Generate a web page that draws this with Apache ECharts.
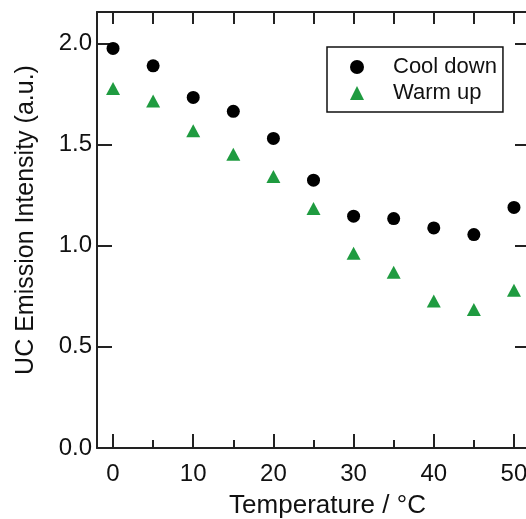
<!DOCTYPE html>
<html>
<head>
<meta charset="utf-8">
<script src="https://cdn.jsdelivr.net/npm/echarts@6/dist/echarts.min.js"></script>
<style>html,body{margin:0;padding:0;background:#fff;}#c{width:526px;height:519px;}</style>
</head>
<body>
<div id="c"></div>
<script>
const temperatures = [0, 5, 10, 15, 20, 25, 30, 35, 40, 45, 50];
const coolDown = [1.975, 1.889, 1.733, 1.664, 1.530, 1.324, 1.146, 1.134, 1.088, 1.055, 1.189];
const warmUp = [1.777, 1.715, 1.568, 1.452, 1.342, 1.184, 0.963, 0.869, 0.727, 0.685, 0.780];
const xMajorTicks = [0, 10, 20, 30, 40, 50];
const xMinorTicks = [5, 15, 25, 35, 45];
const xTopTicks = [0, 5, 10, 15, 20, 25, 30, 35, 40, 45, 50];
const yTicks = [0, 0.5, 1.0, 1.5, 2.0];

const font = 'Liberation Sans, Arial, sans-serif';
const axisColor = '#222';
const green = '#1f9b40';

const chart = echarts.init(document.getElementById('c'));
const lineStyle = { color: axisColor, width: 2 };

chart.setOption({
  animation: false,
  backgroundColor: '#fff',
  grid: { left: 97, top: 12, right: -4, bottom: 71, containLabel: false, outerBoundsMode: 'none' },
  legend: {
    left: 327, top: 47,
    orient: 'vertical',
    padding: [9, 6, 8, 23],
    itemWidth: 14, itemHeight: 14,
    itemGap: 4,
    symbolKeepAspect: true,
    borderColor: '#111', borderWidth: 1.5,
    textStyle: { fontFamily: font, fontSize: 22, lineHeight: 22, color: '#111', padding: [0, 0, 0, 24] },
    data: ['Cool down', 'Warm up']
  },
  xAxis: [
    {
      type: 'value', min: -2, max: 52, position: 'bottom',
      name: 'Temperature / °C', nameLocation: 'middle', nameGap: 45,
      nameTextStyle: { fontFamily: font, fontSize: 26, color: '#111', padding: [0, 0, 0, 28] },
      axisLine: { show: true, onZero: false, lineStyle },
      axisTick: { show: true, inside: true, length: 14, lineStyle, customValues: xMajorTicks },
      axisLabel: { fontFamily: font, fontSize: 24, color: '#111', margin: 14, customValues: xMajorTicks },
      splitLine: { show: false }
    },
    {
      type: 'value', min: -2, max: 52, position: 'bottom',
      axisLine: { show: false, onZero: false },
      axisTick: { show: true, inside: true, length: 8, lineStyle, customValues: xMinorTicks },
      axisLabel: { show: false },
      splitLine: { show: false }
    },
    {
      type: 'value', min: -2, max: 52, position: 'top',
      axisLine: { show: true, onZero: false, lineStyle },
      axisTick: { show: true, inside: true, length: 12, lineStyle, customValues: xTopTicks },
      axisLabel: { show: false },
      splitLine: { show: false }
    }
  ],
  yAxis: [
    {
      type: 'value', min: 0, max: 2.155, position: 'left',
      name: 'UC Emission Intensity (a.u.)', nameLocation: 'middle', nameGap: 58,
      nameTextStyle: { fontFamily: font, fontSize: 25, color: '#111', padding: [0, 0, 0, 20] },
      axisLine: { show: true, onZero: false, lineStyle },
      axisTick: { show: true, inside: true, length: 15, lineStyle, customValues: yTicks },
      axisLabel: { fontFamily: font, fontSize: 24, color: '#111', margin: 5, customValues: yTicks,
                   formatter: v => v.toFixed(1) },
      splitLine: { show: false }
    },
    {
      type: 'value', min: 0, max: 2.155, position: 'right',
      axisLine: { show: true, onZero: false, lineStyle },
      axisTick: { show: true, inside: true, length: 15, lineStyle, customValues: yTicks },
      axisLabel: { show: false },
      splitLine: { show: false }
    }
  ],
  series: [
    {
      name: 'Cool down', type: 'scatter', xAxisIndex: 0, yAxisIndex: 0,
      symbol: 'circle', symbolSize: 13,
      itemStyle: { color: '#000', opacity: 1 },
      data: temperatures.map((t, i) => [t, coolDown[i]])
    },
    {
      name: 'Warm up', type: 'scatter', xAxisIndex: 0, yAxisIndex: 0,
      symbol: 'triangle', symbolSize: [14, 13],
      itemStyle: { color: green, opacity: 1 },
      data: temperatures.map((t, i) => [t, warmUp[i]])
    }
  ]
});
</script>
</body>
</html>
